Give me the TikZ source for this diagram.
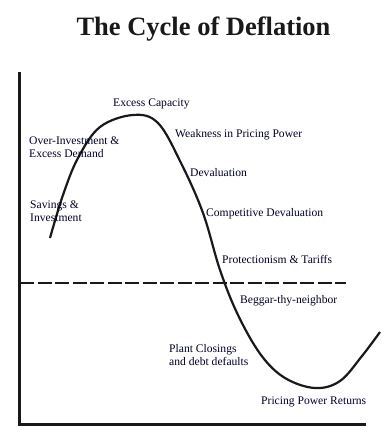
\documentclass[tikz,border=0pt]{standalone}
\usepackage{fontspec}
\setmainfont{Liberation Serif}
\usepackage{tikz}
\usetikzlibrary{positioning}

\begin{document}
\begin{tikzpicture}[
    x=1pt, y=-1pt,
    lbl/.style={anchor=west, inner sep=0pt, align=left, font=\fontsize{11.6}{13}\selectfont, text=black!85!blue},
    ttl/.style={inner sep=0pt, font=\fontsize{26.5}{30}\selectfont\bfseries, text=black!90},
    axis/.style={line width=3pt, black!90},
    midline/.style={line width=2.8pt, black!90, dash pattern=on 14pt off 3.5pt},
    curve/.style={line width=2.2pt, black!90},
]
\useasboundingbox (0,0) rectangle (390,436);

% Title
\node[ttl] (title) at (203.5,29) {The Cycle of Deflation};

% Axes
\coordinate (top) at (19,72);
\coordinate (origin) at (19,424);
\coordinate (right) at (366,424);
\draw[axis] (top) -- (origin) -- (right);

% Dashed level
\coordinate (dashL) at (20,283);
\coordinate (dashR) at (346,283);
\draw[midline] (dashL) -- (dashR);

% The cycle
\draw[curve] plot[smooth, tension=0.6] coordinates {
    (50,238) (63,195) (78,158) (100,127) (133,115) (158,123)
    (181,163) (203,213) (220,270) (238,315) (261,355) (285,378)
    (315,388) (340,381) (362,356) (380,332)};

% Labels, top to bottom
\node[lbl] (excap) at (113,104) {Excess Capacity};
\node[lbl] (weak) at (175,135) {Weakness in Pricing Power};
\node[lbl] (overinv) at (29,147.5) {Over-Investment \&\\Excess Demand};
\node[lbl] (deval) at (190,173) {Devaluation};
\node[lbl] (savings) at (30,211) {Savings \&\\Investment};
\node[lbl] (compdev) at (206,214) {Competitive Devaluation};
\node[lbl] (protect) at (222,259) {Protectionism \& Tariffs};
\node[lbl] (beggar) at (240,301) {Beggar-thy-neighbor};
\node[lbl] (plant) at (169,355.5) {Plant Closings\\and debt defaults};
\node[lbl] (returns) at (261,402) {Pricing Power Returns};

\end{tikzpicture}
\end{document}
